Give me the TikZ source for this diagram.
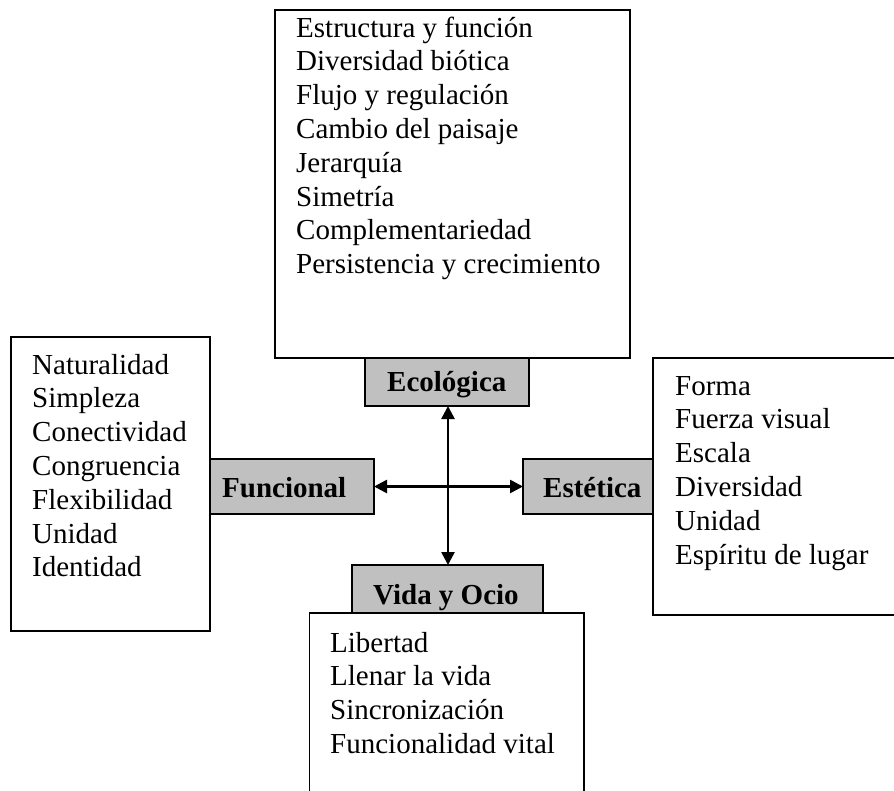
\documentclass[tikz,border=0pt]{standalone}
\usepackage{fontspec}
\setmainfont{Liberation Serif}
\usetikzlibrary{arrows.meta}
\definecolor{tagfill}{RGB}{192,192,192}
\newcommand\lineitems[1]{\begin{tabular}[t]{@{}l@{}}#1\end{tabular}}
\begin{document}
\begin{tikzpicture}[x=1pt,y=-1pt,
  frame/.style={draw=black, line width=1.9pt, fill=white, inner sep=0pt, outer sep=0pt, anchor=north west},
  tag/.style={frame, fill=tagfill},
  listtext/.style={anchor=base west, inner sep=0pt, font=\fontsize{29}{33.8}\selectfont},
  tagtext/.style={anchor=base west, inner sep=0pt, font=\fontsize{29}{33.8}\selectfont\bfseries},
  link/.style={line width=2.6pt, {Triangle[length=13pt,width=13pt]}-{Triangle[length=13pt,width=13pt]}}]
\useasboundingbox (0,0) rectangle (894,790);

% list boxes
\node[frame, minimum width=355pt, minimum height=348pt] (ecoBox) at (275,10) {};
\node[frame, minimum width=199pt, minimum height=294pt] (funBox) at (11,337) {};
\node[frame, minimum width=260pt, minimum height=257pt] (estBox) at (653,358) {};
\node[frame, minimum width=274.5pt, minimum height=200pt] (vidBox) at (309.5,613) {};

% category tags
\node[tag, minimum width=164pt, minimum height=48pt] (eco) at (365,358) {};
\node[tag, minimum width=164pt, minimum height=55pt] (fun) at (210,459) {};
\node[tag, minimum width=130pt, minimum height=55pt] (est) at (523,459) {};
\node[tag, minimum width=191pt, minimum height=48pt] (vid) at (352,565) {};

\node[tagtext] (ecoLabel) at (387,391) {Ecológica};
\node[tagtext] (funLabel) at (222,497) {Funcional};
\node[tagtext] (estLabel) at (543,497) {Estética};
\node[tagtext] (vidLabel) at (373,604) {Vida y Ocio};

% item lists
\node[listtext] (ecoList) at (296,37) {\lineitems{Estructura y función\\Diversidad biótica\\Flujo y regulación\\Cambio del paisaje\\Jerarquía\\Simetría\\Complementariedad\\Persistencia y crecimiento}};
\node[listtext] (funList) at (32,374) {\lineitems{Naturalidad\\Simpleza\\Conectividad\\Congruencia\\Flexibilidad\\Unidad\\Identidad}};
\node[listtext] (estList) at (675,395) {\lineitems{Forma\\Fuerza visual\\Escala\\Diversidad\\Unidad\\Espíritu de lugar}};
\node[listtext] (vidList) at (330,652) {\lineitems{Libertad\\Llenar la vida\\Sincronización\\Funcionalidad vital}};

% connecting arrows
\draw[link] (eco.south -| 448,0) -- (vid.north -| 448,0);
\draw[link] (fun.east) -- (est.west);
\end{tikzpicture}
\end{document}
